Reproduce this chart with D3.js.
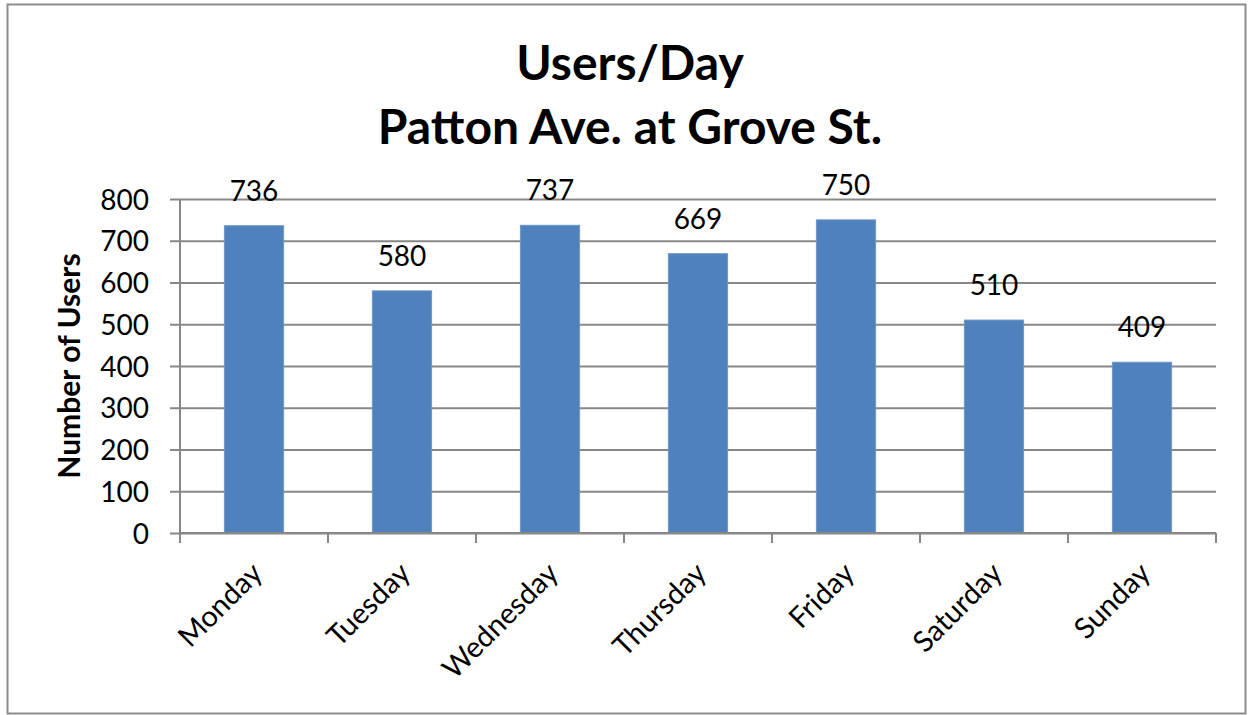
<!DOCTYPE html>
<html>
<head>
<meta charset="utf-8">
<script src="https://cdn.jsdelivr.net/npm/d3@7"></script>
<style>
  body { margin: 0; background: #fff; }
  text { font-family: Lato, "Open Sans", sans-serif; }
</style>
</head>
<body>
<script>
var w = 1251;
var h = 715;

var days = ["Monday", "Tuesday", "Wednesday", "Thursday", "Friday", "Saturday", "Sunday"];
var users = [736, 580, 737, 669, 750, 510, 409];
var yTicks = [0, 100, 200, 300, 400, 500, 600, 700, 800];

var plotLeft = 180, plotRight = 1216, plotTop = 199, plotBottom = 533;

var svg = d3.select("body")
            .append("svg")
            .attr("width", w)
            .attr("height", h);

// outer chart border
svg.append("rect")
    .attr("x", 7.5).attr("y", 4.5)
    .attr("width", 1238).attr("height", 709)
    .attr("fill", "white")
    .attr("stroke", "#8c8c8c")
    .attr("stroke-width", 2);

var x = d3.scaleBand()
    .domain(days)
    .range([plotLeft, plotRight])
    .paddingInner(0.6)
    .paddingOuter(0.3);

var y = d3.scaleLinear()
    .domain([0, 800])
    .range([plotBottom, plotTop]);

// gridlines + y axis
var yAxis = svg.append("g")
    .attr("transform", "translate(" + plotLeft + ",0)")
    .call(d3.axisLeft(y).tickValues(yTicks).tickSize(10).tickPadding(8));
yAxis.select(".domain").remove();
yAxis.selectAll(".tick line").attr("stroke", "#878787").attr("stroke-width", 2)
    .attr("x2", plotRight - plotLeft).attr("x1", -10);
yAxis.selectAll(".tick text")
    .attr("font-size", 28)
    .attr("fill", "#000")
    .attr("x", -31)
    .attr("dy", "0.36em");

svg.append("line")
    .attr("x1", plotLeft).attr("x2", plotLeft)
    .attr("y1", plotTop).attr("y2", plotBottom)
    .attr("stroke", "#878787").attr("stroke-width", 2);

// bars
svg.selectAll("rect.bar")
    .data(users)
    .enter()
    .append("rect")
    .attr("class", "bar")
    .attr("x", function(d, i) { return x(days[i]); })
    .attr("y", function(d) { return y(d); })
    .attr("width", x.bandwidth())
    .attr("height", function(d) { return plotBottom - y(d); })
    .attr("fill", "#4f81bd")
    .attr("stroke", "#6d97c9")
    .attr("stroke-width", 1);

// x axis
var step = (plotRight - plotLeft) / days.length;
var xAxis = svg.append("g")
    .attr("transform", "translate(0," + plotBottom + ")");
xAxis.append("line")
    .attr("x1", plotLeft).attr("x2", plotRight)
    .attr("stroke", "#878787").attr("stroke-width", 2);
xAxis.selectAll("line.tk")
    .data(d3.range(days.length + 1))
    .enter()
    .append("line")
    .attr("class", "tk")
    .attr("x1", function(d) { return plotLeft + d * step; })
    .attr("x2", function(d) { return plotLeft + d * step; })
    .attr("y1", 0).attr("y2", 10)
    .attr("stroke", "#878787").attr("stroke-width", 2);

svg.selectAll("text.day")
    .data(days)
    .enter()
    .append("text")
    .attr("class", "day")
    .attr("text-anchor", "end")
    .attr("font-size", 29)
    .attr("transform", function(d) {
        var cx = x(d) + x.bandwidth() / 2 + 10;
        return "translate(" + cx + "," + (plotBottom + 42) + ") rotate(-45)";
    })
    .text(function(d) { return d; });

// value labels
svg.selectAll("text.val")
    .data(users)
    .enter()
    .append("text")
    .attr("class", "val")
    .attr("text-anchor", "middle")
    .attr("font-size", 28)
    .attr("x", function(d, i) { return x(days[i]) + x.bandwidth() / 2; })
    .attr("y", function(d) { return y(d) - 25; })
    .text(function(d) { return d; });

// titles
svg.append("text")
    .attr("x", 630).attr("y", 80)
    .attr("text-anchor", "middle")
    .attr("font-size", 48).attr("font-weight", "bold")
    .text("Users/Day");
svg.append("text")
    .attr("x", 630).attr("y", 144)
    .attr("text-anchor", "middle")
    .attr("font-size", 48).attr("font-weight", "bold")
    .text("Patton Ave. at Grove St.");

svg.append("text")
    .attr("transform", "translate(80," + ((plotTop + plotBottom) / 2) + ") rotate(-90)")
    .attr("text-anchor", "middle")
    .attr("font-size", 30).attr("font-weight", "bold")
    .text("Number of Users");
</script>
</body>
</html>
